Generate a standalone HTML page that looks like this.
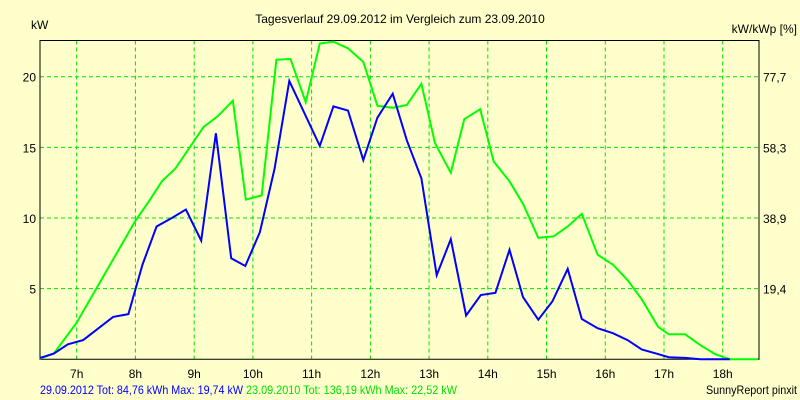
<!DOCTYPE html>
<html><head><meta charset="utf-8"><style>
body{margin:0;background:#ffffcc;}
svg{display:block;font-family:"Liberation Sans",Arial,sans-serif;font-size:12px;}
</style></head><body>
<svg width="800" height="400" viewBox="0 0 800 400">
<rect x="0" y="0" width="800" height="400" fill="#ffffcc"/>
<text x="400" y="23" text-anchor="middle">Tagesverlauf 29.09.2012 im Vergleich zum 23.09.2010</text>
<text x="31" y="29">kW</text>
<text x="797" y="33" text-anchor="end">kW/kWp [%]</text>
<g id="grid"></g>
<g id="axes"></g>
<g id="series"></g>
<text x="40" y="394" fill="#0000ff" textLength="203" lengthAdjust="spacingAndGlyphs">29.09.2012 Tot: 84,76 kWh Max: 19,74 kW</text>
<text x="246" y="394" fill="#00e000" textLength="211" lengthAdjust="spacingAndGlyphs">23.09.2010 Tot: 136,19 kWh Max: 22,52 kW</text>
<text x="797" y="394" text-anchor="end" textLength="91" lengthAdjust="spacingAndGlyphs">SunnyReport pinxit</text>
</svg>
<script>
const xTicks=[7,8,9,10,11,12,13,14,15,16,17,18];
const yTicks=[5,10,15,20];
const y2Labels=["19,4","38,9","58,3","77,7"];
const blueT=[6.375,6.61,6.85,7.11,7.62,7.88,8.12,8.36,8.62,8.86,9.12,9.37,9.63,9.87,10.12,10.37,10.62,11.14,11.37,11.62,11.88,12.12,12.38,12.62,12.87,13.13,13.37,13.63,13.88,14.13,14.37,14.6,14.86,15.1,15.36,15.6,15.87,16.13,16.38,16.62,16.9,17.08,17.36,17.62,18.12];
const blueV=[0.1,0.4,1.06,1.36,3.0,3.2,6.7,9.4,10.0,10.6,8.4,16.0,7.15,6.6,9.0,13.5,19.7,15.1,17.9,17.6,14.1,17.1,18.8,15.5,12.8,5.95,8.5,3.1,4.55,4.7,7.75,4.4,2.8,4.1,6.4,2.85,2.2,1.85,1.36,0.7,0.37,0.15,0.1,0,0];
const greenT=[6.375,6.61,7.0,8.0,8.25,8.45,8.68,9.16,9.4,9.66,9.88,10.15,10.4,10.64,10.9,11.14,11.37,11.62,11.88,12.12,12.38,12.62,12.87,13.1,13.37,13.6,13.87,14.1,14.37,14.6,14.86,15.12,15.36,15.6,15.87,16.13,16.38,16.62,16.9,17.08,17.36,17.62,17.87,18.12,18.6];
const greenV=[0.05,0.4,2.6,9.8,11.3,12.6,13.5,16.45,17.2,18.3,11.3,11.6,21.2,21.25,18.2,22.35,22.48,22.0,21.05,17.95,17.8,18.0,19.5,15.3,13.2,17.0,17.7,14.0,12.6,11.0,8.6,8.7,9.4,10.3,7.4,6.7,5.6,4.25,2.3,1.77,1.77,1.0,0.37,0,0];
const L=40,R=759,T=40.5,B=359.3;
const xs=h=>76.7+(h-7)*58.73;
const ys=v=>B-v*14.13;
const NS="http://www.w3.org/2000/svg";
const grid=document.getElementById('grid'),axes=document.getElementById('axes'),ser=document.getElementById('series');
function mk(tag,attrs,parent){const e=document.createElementNS(NS,tag);for(const k in attrs)e.setAttribute(k,attrs[k]);parent.appendChild(e);return e;}
xTicks.forEach(h=>{
 const l=mk('line',{x1:xs(h),x2:xs(h),y1:T,y2:B,stroke:'#00e000','stroke-dasharray':'4,3','stroke-width':1},grid);
 
 
 const t=mk('text',{x:xs(h),y:378,'text-anchor':'middle'},axes);t.textContent=h+'h';
 
 
});
yTicks.forEach((v,i)=>{
 const l=mk('line',{x1:L,x2:R,y1:ys(v),y2:ys(v),stroke:'#00e000','stroke-dasharray':'4,3','stroke-width':1},grid);
 
 
 const t=mk('text',{x:36,y:ys(v)+5,'text-anchor':'end'},axes);t.textContent=v;
 
 
 const t2=mk('text',{x:763,y:ys(v)+5},axes);t2.textContent=y2Labels[i];
 
 
});
const ax=mk('path',{d:`M${L},${T}H${R}V${B}H${L}Z`,fill:'none',stroke:'#000','stroke-width':1},axes);


function line(ts,vs,col,name){
 const p=mk('polyline',{points:ts.map((t,i)=>xs(t).toFixed(1)+','+ys(vs[i]).toFixed(1)).join(' '),fill:'none',stroke:col,'stroke-width':2,'stroke-linejoin':'miter'},ser);
 
 
}
line(greenT,greenV,'#00ff00','series-2010');
line(blueT,blueV,'#0000ff','series-2012');
</script>
</body></html>
